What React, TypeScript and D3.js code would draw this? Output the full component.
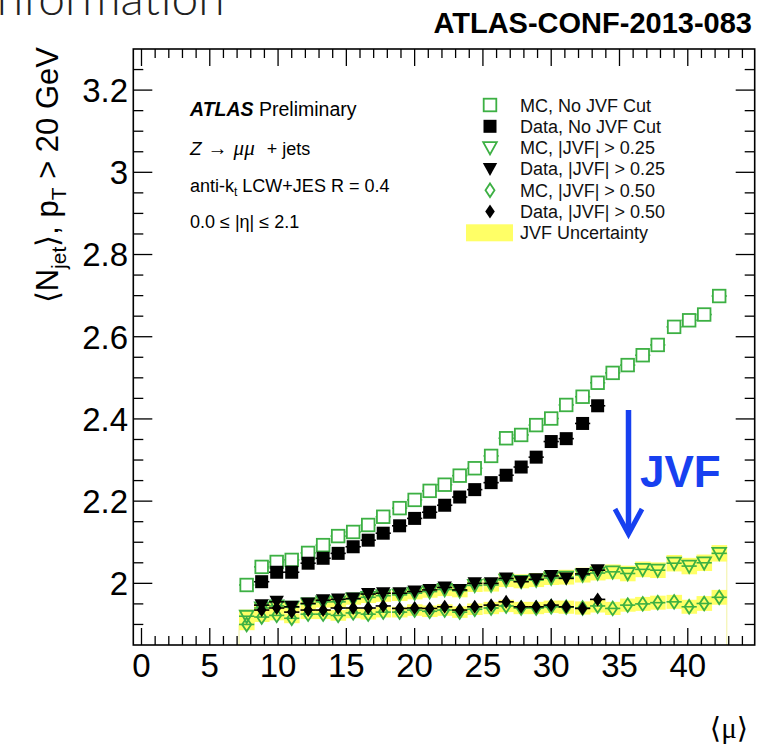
import React from "react";
import * as d3 from "d3";

// ---- data ----
const muMC = [7.7, 8.8, 9.9, 11.0, 12.2, 13.3, 14.4, 15.5, 16.6, 17.7, 18.9, 20.0, 21.1, 22.2, 23.3, 24.4, 25.6, 26.7, 27.8, 28.9, 30.0, 31.1, 32.3, 33.4, 34.5, 35.6, 36.7, 37.8, 39.0, 40.1, 41.2, 42.3];
const muData = [8.8, 9.9, 11.0, 12.2, 13.3, 14.4, 15.5, 16.6, 17.7, 18.9, 20.0, 21.1, 22.2, 23.3, 24.4, 25.6, 26.7, 27.8, 28.9, 30.0, 31.1, 32.3, 33.4];

const mcNoCut = [1.996, 2.040, 2.052, 2.057, 2.074, 2.093, 2.115, 2.125, 2.142, 2.162, 2.183, 2.203, 2.225, 2.240, 2.262, 2.280, 2.310, 2.353, 2.361, 2.385, 2.401, 2.434, 2.454, 2.488, 2.512, 2.531, 2.555, 2.580, 2.624, 2.640, 2.654, 2.699];
const dataNoCut = [2.004, 2.027, 2.027, 2.049, 2.061, 2.073, 2.089, 2.105, 2.122, 2.140, 2.158, 2.173, 2.190, 2.210, 2.228, 2.245, 2.263, 2.283, 2.307, 2.345, 2.352, 2.389, 2.432];
const mcJvf25 = [1.920, 1.940, 1.945, 1.942, 1.950, 1.955, 1.955, 1.962, 1.966, 1.970, 1.972, 1.976, 1.980, 1.985, 1.982, 1.995, 1.996, 2.008, 2.005, 2.008, 2.013, 2.015, 2.020, 2.025, 2.028, 2.024, 2.034, 2.032, 2.049, 2.042, 2.050, 2.073];
const dataJvf25 = [1.947, 1.955, 1.943, 1.951, 1.959, 1.961, 1.963, 1.974, 1.976, 1.976, 1.980, 1.984, 1.990, 1.984, 2.000, 2.000, 2.012, 2.004, 2.010, 2.018, 2.012, 2.023, 2.032];
const mcJvf50 = [1.900, 1.918, 1.922, 1.915, 1.925, 1.925, 1.922, 1.928, 1.925, 1.930, 1.930, 1.935, 1.932, 1.935, 1.930, 1.937, 1.940, 1.945, 1.940, 1.940, 1.943, 1.942, 1.940, 1.945, 1.939, 1.947, 1.950, 1.953, 1.955, 1.943, 1.951, 1.966];
const dataJvf50 = [1.935, 1.940, 1.930, 1.935, 1.935, 1.940, 1.940, 1.940, 1.945, 1.939, 1.940, 1.939, 1.943, 1.935, 1.943, 1.947, 1.955, 1.943, 1.943, 1.947, 1.943, 1.939, 1.961];
const unc25 = [0.016, 0.013, 0.013, 0.013, 0.013, 0.014, 0.014, 0.014, 0.014, 0.015, 0.015, 0.015, 0.015, 0.016, 0.016, 0.016, 0.016, 0.017, 0.017, 0.017, 0.017, 0.018, 0.018, 0.018, 0.018, 0.019, 0.019, 0.019, 0.020, 0.020, 0.020, 0.020];
const unc50 = [0.014, 0.012, 0.012, 0.012, 0.012, 0.012, 0.013, 0.013, 0.013, 0.013, 0.013, 0.014, 0.014, 0.014, 0.014, 0.014, 0.015, 0.015, 0.015, 0.015, 0.015, 0.016, 0.016, 0.016, 0.016, 0.016, 0.017, 0.017, 0.017, 0.017, 0.018, 0.018];

const xMajorTicks = [0, 5, 10, 15, 20, 25, 30, 35, 40];
const yMajorTicks = [2, 2.2, 2.4, 2.6, 2.8, 3, 3.2];
const yTickLabels = ["2", "2.2", "2.4", "2.6", "2.8", "3", "3.2"];

const legendItems = [
  { label: "MC, No JVF Cut", kind: "sqOpen" },
  { label: "Data, No JVF Cut", kind: "sqFill" },
  { label: "MC, |JVF| > 0.25", kind: "triOpen" },
  { label: "Data, |JVF| > 0.25", kind: "triFill" },
  { label: "MC, |JVF| > 0.50", kind: "diaOpen" },
  { label: "Data, |JVF| > 0.50", kind: "diaFill" },
  { label: "JVF Uncertainty", kind: "band" },
];

const GREEN = "#3cb043";
const YELLOW = "#ffff66";
const BLUE = "#1740f0";
const FONT = "'Liberation Sans', Arial, Helvetica, sans-serif";
const SERIF = "'Liberation Serif', 'DejaVu Serif', serif";

const L = 133.3, R = 754.7, T = 49, B = 645;
const x = d3.scaleLinear().domain([-0.6, 44.9]).range([L, R]);
const y = d3.scaleLinear().domain([1.85, 3.3]).range([B, T]);
const HALF = (x(1.116) - x(0)) / 2;

function Marker({ kind, cx, cy }: { kind: string; cx: number; cy: number }) {
  const sw = 1.8;
  switch (kind) {
    case "sqOpen":
      return <rect x={cx - 6.3} y={cy - 6.3} width={12.6} height={12.6} fill="white" stroke={GREEN} strokeWidth={sw} />;
    case "sqFill":
      return <rect x={cx - 6.5} y={cy - 6.5} width={13} height={13} fill="black" />;
    case "triOpen":
      return <path d={`M${cx - 6.8},${cy - 5.5}L${cx + 6.8},${cy - 5.5}L${cx},${cy + 6.8}Z`} fill="white" fillOpacity={0} stroke={GREEN} strokeWidth={sw} strokeLinejoin="miter" />;
    case "triFill":
      return <path d={`M${cx - 7.2},${cy - 6}L${cx + 7.2},${cy - 6}L${cx},${cy + 7.2}Z`} fill="black" />;
    case "diaOpen":
      return <path d={`M${cx},${cy - 6.8}L${cx + 4.5},${cy}L${cx},${cy + 6.8}L${cx - 4.5},${cy}Z`} fill="none" stroke={GREEN} strokeWidth={sw} />;
    case "diaFill":
      return <path d={`M${cx},${cy - 7}L${cx + 4.8},${cy}L${cx},${cy + 7}L${cx - 4.8},${cy}Z`} fill="black" />;
    default:
      return null;
  }
}

function Series({ xs, ys, kind, color }: { xs: number[]; ys: number[]; kind: string; color: string }) {
  return (
    <g>
      {xs.map((m, i) => (
        <line key={"e" + i} x1={x(m) - HALF} x2={x(m) + HALF} y1={y(ys[i])} y2={y(ys[i])} stroke={color} strokeWidth={1.6} />
      ))}
      {xs.map((m, i) => (
        <Marker key={"m" + i} kind={kind} cx={x(m)} cy={y(ys[i])} />
      ))}
    </g>
  );
}

export default function App() {
  const xMinor = d3.range(0, 45, 1);
  const yMinor = d3.range(38, 66).map((k) => k * 0.05);
  const legendY = (i: number) => 105 + i * 21.3;

  const bandLeft = x(muMC[0]) - HALF;
  const bandRight = x(muMC[muMC.length - 1]) + HALF;

  return (
    <svg width={761} height={746} viewBox="0 0 761 746" style={{ position: "absolute", left: 0, top: 0, background: "white" }} fontFamily={FONT}>
      <rect x={0} y={0} width={761} height={746} fill="white" />
      {/* slide title fragment (cut at the top in the original) */}
      <text x={-14} y={15} fontSize={48} fontWeight={300} fontFamily="Lato, 'DejaVu Sans', sans-serif" fill="#222">information</text>
      <text x={752} y={33} fontSize={29} fontWeight="bold" textAnchor="end" fill="black">ATLAS-CONF-2013-083</text>

      {/* uncertainty bands */}
      <g>
        <line x1={bandLeft} x2={bandLeft} y1={y(mcJvf50[0])} y2={B} stroke="#f2f2a0" strokeWidth={1} />
        <line x1={bandRight} x2={bandRight} y1={y(mcJvf25[mcJvf25.length - 1])} y2={B} stroke="#f2f2a0" strokeWidth={1} />
        {muMC.map((m, i) => (
          <rect key={"b25" + i} x={x(m) - HALF} width={2 * HALF + 0.3} y={y(mcJvf25[i] + unc25[i])} height={y(mcJvf25[i] - unc25[i]) - y(mcJvf25[i] + unc25[i])} fill={YELLOW} />
        ))}
        {muMC.map((m, i) => (
          <rect key={"b50" + i} x={x(m) - HALF} width={2 * HALF + 0.3} y={y(mcJvf50[i] + unc50[i])} height={y(mcJvf50[i] - unc50[i]) - y(mcJvf50[i] + unc50[i])} fill={YELLOW} />
        ))}
      </g>

      <Series xs={muMC} ys={mcNoCut} kind="sqOpen" color={GREEN} />
      <Series xs={muData} ys={dataNoCut} kind="sqFill" color="black" />
      <Series xs={muMC} ys={mcJvf25} kind="triOpen" color={GREEN} />
      <Series xs={muMC} ys={mcJvf50} kind="diaOpen" color={GREEN} />
      <Series xs={muData} ys={dataJvf25} kind="triFill" color="black" />
      <Series xs={muData} ys={dataJvf50} kind="diaFill" color="black" />

      {/* frame and ticks */}
      <rect x={L} y={T} width={R - L} height={B - T} fill="none" stroke="black" strokeWidth={1.6} />
      <g stroke="black" strokeWidth={1.3}>
        {xMinor.map((v) => {
          const major = v % 5 === 0;
          const len = major ? 17 : 9;
          return (
            <g key={"xt" + v}>
              <line x1={x(v)} x2={x(v)} y1={B} y2={B - len} />
              <line x1={x(v)} x2={x(v)} y1={T} y2={T + len} />
            </g>
          );
        })}
        {yMinor.map((v, i) => {
          const major = Math.abs(v * 5 - Math.round(v * 5)) < 1e-6;
          const len = major ? 19 : 10;
          return (
            <g key={"yt" + i}>
              <line x1={L} x2={L + len} y1={y(v)} y2={y(v)} />
              <line x1={R} x2={R - len} y1={y(v)} y2={y(v)} />
            </g>
          );
        })}
      </g>
      <g fontSize={33} fill="black">
        {xMajorTicks.map((v) => (
          <text key={"xl" + v} x={x(v)} y={677} textAnchor="middle">{v}</text>
        ))}
        {yMajorTicks.map((v, i) => (
          <text key={"yl" + v} x={128} y={y(v) + 11.8} textAnchor="end">{yTickLabels[i]}</text>
        ))}
      </g>

      {/* axis titles */}
      <text transform="translate(58,47) rotate(-90)" textAnchor="end" fontSize={31} fill="black">
        ⟨N<tspan fontSize={21} dy={8}>jet</tspan><tspan dy={-8}>⟩, p</tspan><tspan fontSize={21} dy={8}>T</tspan><tspan dy={-8}> &gt; 20 GeV</tspan>
      </text>
      <text x={748} y={738} textAnchor="end" fontSize={29} fontFamily={SERIF} fill="black">⟨μ⟩</text>

      {/* ATLAS label block */}
      <g fontSize={18} fill="black">
        <text x={190} y={116} fontSize={19.5}><tspan fontWeight="bold" fontStyle="italic">ATLAS</tspan> Preliminary</text>
        <text x={190} y={155}>
          <tspan fontStyle="italic" fontSize={19}>Z</tspan>
          <tspan dx={6} fontSize={20}>→</tspan>
          <tspan dx={6} fontStyle="italic" fontFamily={SERIF} fontSize={21}>μμ</tspan>
          <tspan dx={12}>+ jets</tspan>
        </text>
        <text x={190} y={192}>anti-k<tspan fontSize={12} dy={4}>t</tspan><tspan dy={-4}> LCW+JES R = 0.4</tspan></text>
        <text x={190} y={228}>0.0 ≤ |η| ≤ 2.1</text>
      </g>

      {/* legend */}
      <g fontSize={18} fill="#111">
        {legendItems.map((it, i) => (
          <g key={"lg" + i}>
            {it.kind === "band" ? (
              <rect x={466} y={legendY(i) - 8.5} width={47} height={17} fill={YELLOW} />
            ) : (
              <Marker kind={it.kind} cx={490} cy={legendY(i)} />
            )}
            <text x={520} y={legendY(i) + 6.5}>{it.label}</text>
          </g>
        ))}
      </g>

      {/* JVF arrow */}
      <line x1={628.5} x2={628.5} y1={410} y2={532} stroke={BLUE} strokeWidth={5.5} />
      <path d="M615,509 L628.5,534 L642,509" fill="none" stroke={BLUE} strokeWidth={5} strokeLinejoin="miter" strokeLinecap="butt" />
      <text x={640} y={487} fontSize={44} fontWeight="bold" fill={BLUE}>JVF</text>
    </svg>
  );
}
